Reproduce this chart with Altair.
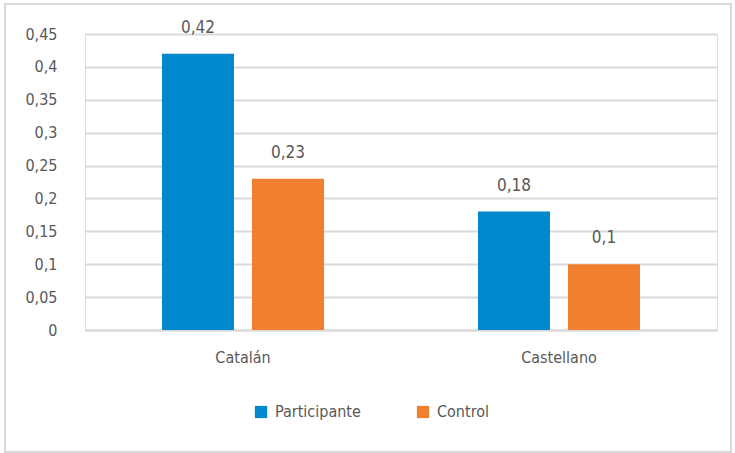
import altair as alt
import pandas as pd

categories = ["Catalán", "Catalán", "Castellano", "Castellano"]
series = ["Participante", "Control", "Participante", "Control"]
values = [0.42, 0.23, 0.18, 0.10]
labels = ["0,42", "0,23", "0,18", "0,1"]
y_ticks = [0, 0.05, 0.1, 0.15, 0.2, 0.25, 0.3, 0.35, 0.4, 0.45]

df = pd.DataFrame({"cat": categories, "serie": series, "val": values, "lab": labels})

FONT = "DejaVu Sans Condensed, Roboto Condensed, Roboto"
GRAY = "#595959"

x = alt.X("cat:N", sort=["Catalán", "Castellano"], title=None,
          scale=alt.Scale(paddingInner=0, paddingOuter=0),
          axis=alt.Axis(labelAngle=0, labelFontSize=16, labelColor=GRAY, labelFont=FONT,
                        ticks=False, domainColor="#d9d9d9", domainWidth=2, labelPadding=19))
xo = alt.XOffset("serie:N", sort=["Participante", "Control"],
                 scale=alt.Scale(paddingInner=0.2, paddingOuter=0.855))
y = alt.Y("val:Q", title=None,
          scale=alt.Scale(domain=[0, 0.45], nice=False),
          axis=alt.Axis(values=y_ticks, labelExpr="replace(format(datum.value, '.2~f'), '.', ',')",
                        labelFontSize=16, labelColor=GRAY, labelFont=FONT, ticks=False,
                        domain=False, gridColor="#d9d9d9", gridWidth=2, labelPadding=28))

bars = alt.Chart(df).mark_bar().encode(
    x=x, xOffset=xo, y=y,
    color=alt.Color("serie:N", sort=["Participante", "Control"],
                    scale=alt.Scale(domain=["Participante", "Control"], range=["#0088CE", "#F07F30"]),
                    legend=alt.Legend(title=None, orient="none", legendX=168, legendY=370,
                                      direction="horizontal", symbolType="square", symbolSize=150,
                                      symbolStrokeWidth=0, labelFontSize=16, labelColor=GRAY,
                                      labelFont=FONT, columnPadding=54, labelOffset=6)),
)

text = alt.Chart(df).mark_text(dy=-26, fontSize=17, color=GRAY, font=FONT).encode(
    x=x, xOffset=xo, y=y, text="lab:N"
)

frame = alt.Chart(df).mark_rect(fill=None, stroke="#d9d9d9", strokeWidth=1.5, clip=False).encode(
    x=alt.value(-80), x2=alt.value(646), y=alt.value(-30), y2=alt.value(418)
)

chart = alt.layer(frame, bars, text).properties(
    width=632, height=296,
    autosize=alt.AutoSizeParams(type="none"),
    padding={"left": 85, "top": 34, "right": 18, "bottom": 123},
).configure_view(stroke=None).configure(background="white")

chart.save("out.html", embed_options={"renderer": "svg", "actions": False})
